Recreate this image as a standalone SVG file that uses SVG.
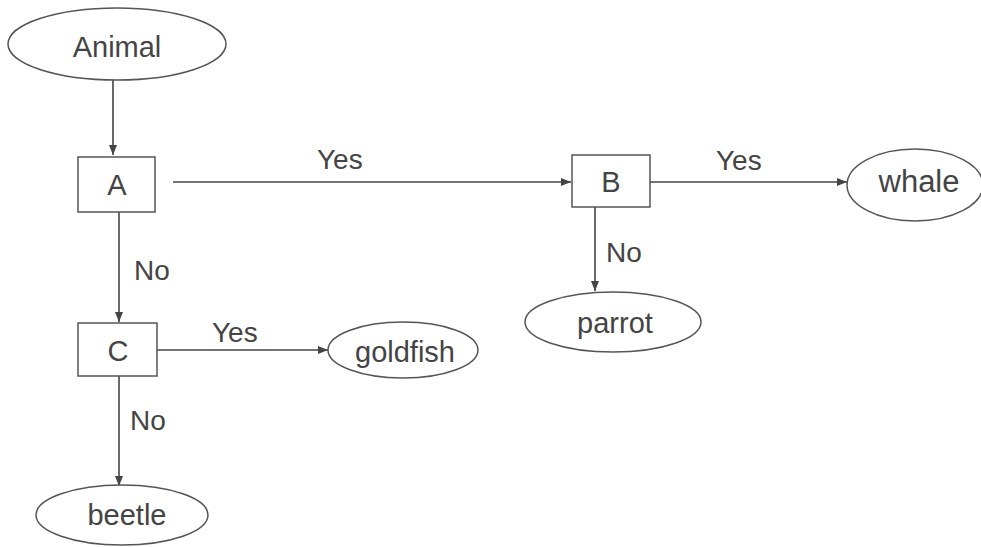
<svg xmlns="http://www.w3.org/2000/svg" width="981" height="547" viewBox="0 0 981 547">
<defs>
<marker id="arr" viewBox="0 0 10 10" refX="10" refY="5" markerWidth="10" markerHeight="10" markerUnits="userSpaceOnUse" orient="auto">
<path d="M0,1 L10,5 L0,9 z" fill="#444"/>
</marker>
<style>
.s{fill:#fff;stroke:#555;stroke-width:1.5}
.t{font-family:"Liberation Sans",Arial,sans-serif;font-size:29px;fill:#444;text-anchor:middle}
.l{font-family:"Liberation Sans",Arial,sans-serif;font-size:28px;fill:#444}
.c{stroke:#444;stroke-width:1.6;fill:none;marker-end:url(#arr)}
</style>
</defs>
<rect width="981" height="547" fill="#fff"/>
<g id="connectors">
<line class="c" x1="113" y1="80" x2="113" y2="155"/>
<line class="c" x1="173" y1="182" x2="571" y2="182"/>
<line class="c" x1="650" y1="182" x2="847" y2="182"/>
<line class="c" x1="595" y1="207" x2="595" y2="291"/>
<line class="c" x1="119" y1="212" x2="119" y2="322"/>
<line class="c" x1="157" y1="350" x2="328" y2="350"/>
<line class="c" x1="119" y1="376" x2="119" y2="486"/>
<text class="l" x="317" y="169">Yes</text>
<text class="l" x="716" y="170">Yes</text>
<text class="l" x="606" y="262">No</text>
<text class="l" x="134" y="280">No</text>
<text class="l" x="212" y="342">Yes</text>
<text class="l" x="130" y="430">No</text>
</g>
<g id="animal"><ellipse class="s" cx="117" cy="44" rx="109" ry="36"/><text class="t" x="117" y="57">Animal</text></g>
<g id="A"><rect class="s" x="78" y="157" width="77" height="55"/><text class="t" x="117" y="195">A</text></g>
<g id="B"><rect class="s" x="572" y="155" width="78" height="52"/><text class="t" x="611" y="192">B</text></g>
<g id="whale"><ellipse class="s" cx="915" cy="185" rx="68" ry="36"/><text class="t" x="919" y="192" style="font-size:31px">whale</text></g>
<g id="parrot"><ellipse class="s" cx="613" cy="322" rx="88" ry="30"/><text class="t" x="615" y="333">parrot</text></g>
<g id="C"><rect class="s" x="78" y="323" width="79" height="53"/><text class="t" x="118" y="361">C</text></g>
<g id="goldfish"><ellipse class="s" cx="403" cy="350" rx="75" ry="28"/><text class="t" x="405" y="362">goldfish</text></g>
<g id="beetle"><ellipse class="s" cx="122" cy="515" rx="86" ry="30"/><text class="t" x="127" y="525">beetle</text></g>
</svg>
